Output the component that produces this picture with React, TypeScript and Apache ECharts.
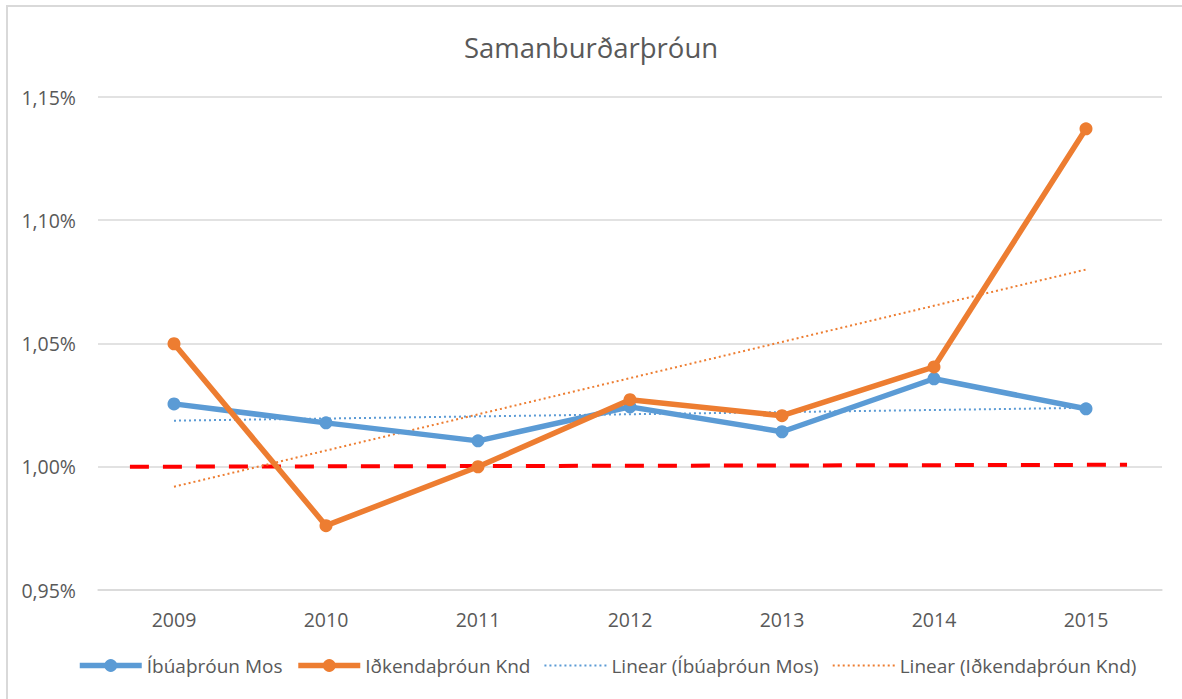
import React, { useEffect, useRef } from "react";
import * as echarts from "echarts";

const years = ["2009", "2010", "2011", "2012", "2013", "2014", "2015"];
const ibuar = [1.0255, 1.0178, 1.0105, 1.0243, 1.0142, 1.0357, 1.0235];
const idkenda = [1.0499, 0.9761, 1.0, 1.0272, 1.0207, 1.0405, 1.1371];
const trendIbuar = [1.0187, null, null, null, null, null, 1.0239];
const trendIdkenda = [0.9919, null, null, null, null, null, 1.08];
const refLine: [number, number][] = [
  [0.21, 1.0],
  [6.77, 1.0008],
];
const seriesNames = [
  "Íbúaþróun Mos",
  "Iðkendaþróun Knd",
  "Linear (Íbúaþróun Mos)",
  "Linear (Iðkendaþróun Knd)",
];

const FONT = "'Open Sans', sans-serif";
const TXT = "#595959";
const BLUE = "#5B9BD5";
const ORANGE = "#ED7D31";

export default function App() {
  const ref = useRef<HTMLDivElement>(null);
  useEffect(() => {
    document.body.style.margin = "0";
    const chart = echarts.init(ref.current!, null, { renderer: "svg" });
    chart.setOption({
      animation: false,
      backgroundColor: "#fff",
      textStyle: { fontFamily: FONT },
      graphic: [
        {
          type: "rect",
          shape: { x: 7, y: 6, width: 1200, height: 720 },
          style: { fill: "none", stroke: "#D9D9D9", lineWidth: 2 },
          silent: true,
        },
      ],
      title: {
        text: "Samanburðarþróun",
        left: "center",
        top: 28,
        textStyle: { fontFamily: FONT, fontSize: 27.5, fontWeight: "normal", color: TXT },
      },
      legend: {
        data: [
          { name: seriesNames[0], lineStyle: { width: 5.5 } },
          { name: seriesNames[1], lineStyle: { width: 5.5 } },
          { name: seriesNames[2], itemStyle: { opacity: 0 } },
          { name: seriesNames[3], itemStyle: { opacity: 0 } },
        ],
        bottom: 19,
        left: 72,
        itemWidth: 62,
        itemHeight: 16,
        itemGap: 13,
        textStyle: { fontFamily: FONT, fontSize: 19, color: TXT },
      },
      grid: { left: 98, right: 20, top: 97, bottom: 109 },
      xAxis: [
        {
          type: "category",
          data: years,
          boundaryGap: true,
          axisLine: { show: true, lineStyle: { color: "#D9D9D9", width: 1.5 } },
          axisTick: { show: false },
          axisLabel: { color: TXT, fontSize: 19.5, margin: 19, fontFamily: FONT },
        },
        {
          type: "value",
          min: 0,
          max: 7,
          show: false,
        },
      ],
      yAxis: {
        type: "value",
        min: 0.95,
        max: 1.15,
        interval: 0.05,
        axisLine: { show: false },
        axisTick: { show: false },
        splitLine: { lineStyle: { color: "#D9D9D9", width: 1.5 } },
        axisLabel: {
          color: TXT,
          fontSize: 19.5,
          margin: 22,
          fontFamily: FONT,
          formatter: (v: number) => v.toFixed(2).replace(".", ",") + "%",
        },
      },
      series: [
        {
          name: "ref",
          type: "line",
          xAxisIndex: 1,
          data: refLine,
          symbol: "none",
          lineStyle: { color: "#FF0000", width: 4, type: [19, 14] },
          z: 1,
        },
        {
          name: seriesNames[2],
          type: "line",
          data: trendIbuar,
          connectNulls: true,
          symbol: "none",
          itemStyle: { color: BLUE },
          lineStyle: { color: BLUE, width: 2, type: [2, 3] },
          z: 2,
        },
        {
          name: seriesNames[3],
          type: "line",
          data: trendIdkenda,
          connectNulls: true,
          symbol: "none",
          itemStyle: { color: ORANGE },
          lineStyle: { color: ORANGE, width: 2, type: [2, 3] },
          z: 2,
        },
        {
          name: seriesNames[0],
          type: "line",
          data: ibuar,
          symbol: "circle",
          symbolSize: 13,
          itemStyle: { color: BLUE },
          lineStyle: { color: BLUE, width: 5.5 },
          z: 3,
        },
        {
          name: seriesNames[1],
          type: "line",
          data: idkenda,
          symbol: "circle",
          symbolSize: 13,
          itemStyle: { color: ORANGE },
          lineStyle: { color: ORANGE, width: 5.5 },
          z: 4,
        },
      ],
    });
    return () => chart.dispose();
  }, []);
  return <div ref={ref} style={{ width: 1182, height: 699 }} />;
}
